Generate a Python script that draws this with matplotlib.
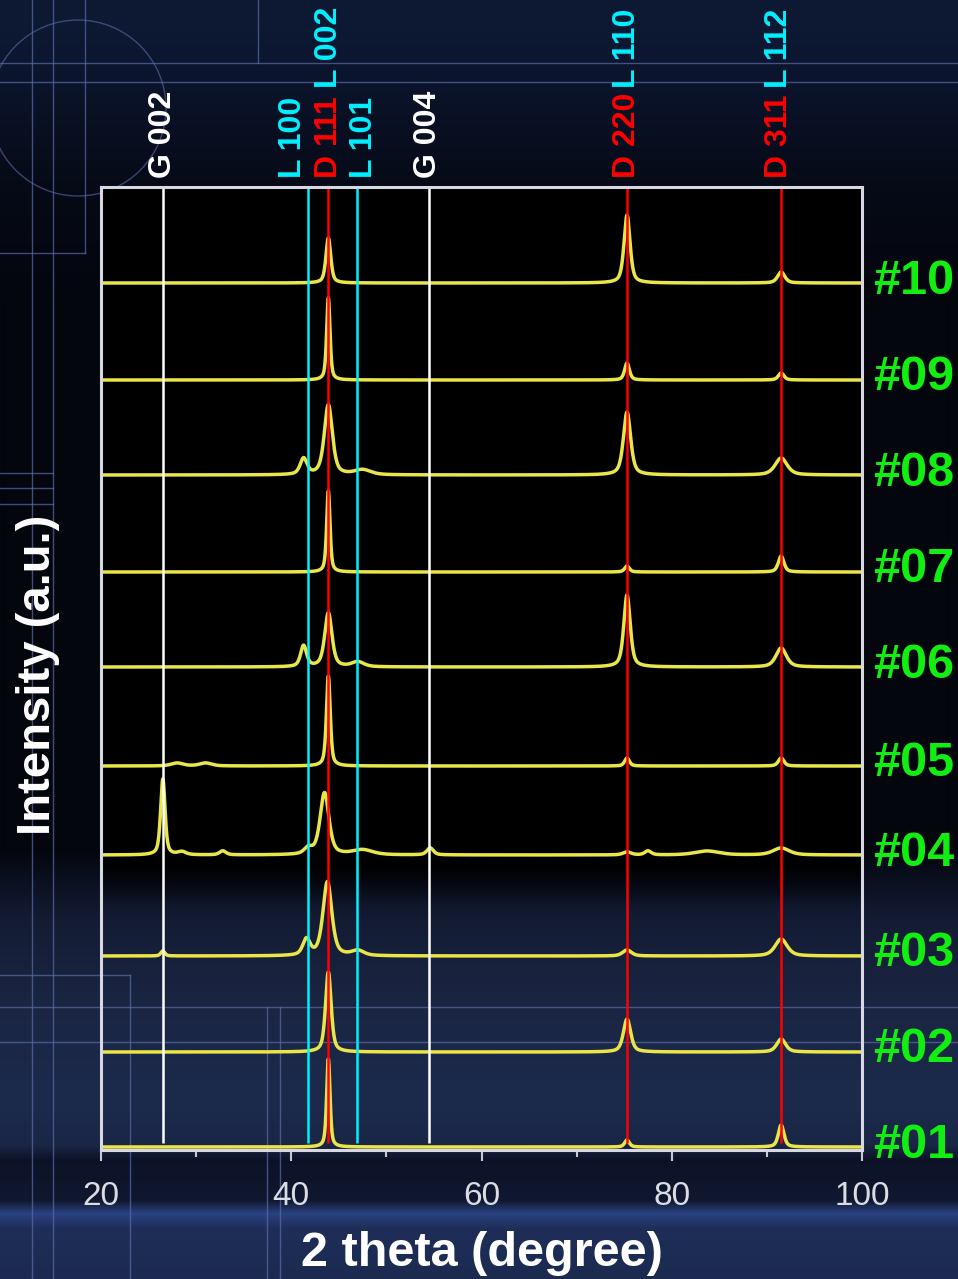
import numpy as np
import matplotlib
matplotlib.use("Agg")
import matplotlib.pyplot as plt
from matplotlib.patches import Circle
from matplotlib.transforms import blended_transform_factory
from matplotlib.ticker import MultipleLocator

plt.rcParams['font.family'] = ['Liberation Sans', 'DejaVu Sans']

# ---------------- data ----------------
sample_labels = ['#01', '#02', '#03', '#04', '#05', '#06', '#07', '#08', '#09', '#10']
# vertical offsets of each trace (a.u.)
baselines = [3, 98, 194, 295, 384, 483, 578, 675, 770, 867]

# peaks per sample: (2theta, height a.u., FWHM degree)
peaks_01 = [(43.9, 88, 0.42), (75.3, 7, 0.6), (91.5, 22, 0.7)]
peaks_02 = [(43.9, 80, 0.7), (75.3, 33, 0.9), (91.5, 13, 1.1)]
peaks_03 = [(43.8, 74, 1.1), (41.6, 16, 0.9), (47.0, 5, 1.5), (26.5, 5, 0.5),
            (75.3, 6, 1.1), (91.5, 17, 1.5)]
peaks_04 = [(26.5, 76, 0.55), (43.5, 62, 1.1), (41.8, 6, 1.0), (47.5, 5, 2.5),
            (54.6, 7, 0.8), (28.5, 3, 1.0), (32.8, 4, 0.8), (75.3, 3, 1.0),
            (77.5, 4, 0.8), (83.7, 4, 3.0), (91.5, 7, 2.0)]
peaks_05 = [(43.9, 90, 0.48), (75.3, 8, 0.6), (91.5, 8, 0.7), (28.0, 3, 1.5), (31.0, 3, 1.5)]
peaks_06 = [(43.9, 54, 0.9), (41.3, 21, 0.75), (47.0, 5, 1.5), (75.3, 72, 0.8), (91.5, 19, 1.3)]
peaks_07 = [(43.9, 81, 0.42), (75.3, 6, 0.6), (91.5, 16, 0.7)]
peaks_08 = [(43.9, 70, 1.0), (41.3, 16, 0.85), (47.5, 5, 2.0), (75.3, 63, 0.9), (91.5, 17, 1.5)]
peaks_09 = [(43.9, 82, 0.42), (75.3, 17, 0.6), (91.5, 7, 0.7)]
peaks_10 = [(43.9, 45, 0.6), (75.3, 68, 0.75), (91.5, 11, 0.9)]
all_peaks = [peaks_01, peaks_02, peaks_03, peaks_04, peaks_05,
             peaks_06, peaks_07, peaks_08, peaks_09, peaks_10]

# reference lines
ref_pos = [26.5, 41.8, 43.9, 46.9, 54.5, 75.3, 91.5]
ref_colors = ['white', '#00f0ff', '#ff0000', '#00f0ff', 'white', '#ff0000', '#ff0000']
# labels above the frame (lower row / upper row)
lower_labels = ['G 002', 'L 100', 'D 111', 'L 101', 'G 004', 'D 220', 'D 311']
lower_x = [26.5, 40.2, 44.0, 47.6, 54.4, 75.3, 91.3]
lower_colors = ['white', '#00f0ff', '#ff0000', '#00f0ff', 'white', '#ff0000', '#ff0000']
upper_labels = ['L 002', 'L 110', 'L 112']
upper_x = [44.0, 75.3, 91.3]

xticks_major = [20, 40, 60, 80, 100]

# ---------------- figure ----------------
W, H = 958, 1279
fig = plt.figure(figsize=(W / 100, H / 100), dpi=100)

# background (decoration)
bg = fig.add_axes([0, 0, 1, 1], zorder=0)
bg.set_xlim(0, W)
bg.set_ylim(H, 0)
bg.axis('off')
stop_y = [0, 60, 190, 300, 850, 880, 920, 1000, 1100, 1145, 1160, 1200, 1213, 1228, 1279]
stop_c = ['#0e1a34', '#0c1630', '#060a16', '#04060e', '#04060e', '#0a1020', '#141c34',
          '#1a2542', '#1c2a4c', '#1a2646', '#0c1226', '#101830', '#2a4280', '#1e2e58', '#1c2a50']
rgb = np.array([matplotlib.colors.to_rgb(c) for c in stop_c])
yy = np.arange(H)
grad = np.stack([np.interp(yy, stop_y, rgb[:, k]) for k in range(3)], axis=-1)[:, None, :]
bg.imshow(grad, extent=[0, W, H, 0], aspect='auto', interpolation='bilinear')
dec = dict(color='#5a6ca8', lw=1.0, alpha=0.7)
for y in [63, 82]:
    bg.plot([0, W], [y, y], **dec)
for y in [1007, 1042]:
    bg.plot([0, W], [y, y], **dec)
for x in [32, 53]:
    bg.plot([x, x], [0, H], **dec)
bg.plot([85, 85], [0, 253], **dec)
bg.plot([0, 85], [253, 253], **dec)
bg.plot([258, 258], [0, 63], **dec)
for y in [473, 488, 504]:
    bg.plot([0, 53], [y, y], **dec)
bg.plot([0, 130], [975, 975], **dec)
bg.plot([130, 130], [975, H], **dec)
for x in [267, 280]:
    bg.plot([x, x], [1007, H], **dec)
bg.add_patch(Circle((78, 108), 88, fill=False, ec='#5a6ca8', lw=1.0, alpha=0.6))

# main axes
ax = fig.add_axes([101 / W, 1 - 1150 / H, 761 / W, 963 / H], zorder=2)
ax.patch.set_alpha(0)
YMAX = 963
ov = np.zeros((200, 1, 4))
ovy = np.linspace(YMAX, 0, 200)
ov[:, 0, 3] = np.interp(ovy, [0, 245, 285, YMAX], [0.0, 0.0, 0.97, 0.97])
ax.imshow(ov, extent=[20, 100, 0, YMAX], aspect='auto', zorder=0, interpolation='bilinear')

x = np.linspace(20, 100, 4001)
for base, plist in zip(baselines, all_peaks):
    y = np.zeros_like(x)
    for p, h, w in plist:
        g = np.exp(-4 * np.log(2) * ((x - p) / w) ** 2)
        l = 1.0 / (1 + 4 * ((x - p) / w) ** 2)
        y += h * (0.45 * g + 0.55 * l)
    ax.plot(x, base + y, color='#eae64a', lw=2.5, zorder=3, solid_capstyle='round')

for p, c in zip(ref_pos, ref_colors):
    ax.vlines(p, 7, YMAX, color=c, lw=1.8, zorder=4)

ax.set_xlim(20, 100)
ax.set_ylim(0, YMAX)
ax.set_yticks([])
ax.xaxis.set_major_locator(MultipleLocator(20))
ax.xaxis.set_minor_locator(MultipleLocator(10))
ax.set_xticks(xticks_major)
ax.set_xticklabels([str(v) for v in xticks_major])
ax.tick_params(axis='x', which='major', direction='out', length=8, width=1.5,
               color='#c8c8d0', labelcolor='#dcdce4', labelsize=24, pad=14)
ax.tick_params(axis='x', which='minor', direction='out', length=5, width=1.5, color='#c8c8d0')
for s in ax.spines.values():
    s.set_color('#d8d8e2')
    s.set_linewidth(2.2)
    s.set_zorder(5)

ax.set_xlabel('2 theta (degree)', fontsize=35, fontweight='bold', color='white', labelpad=14)
fig.text(38 / W, 1 - 675 / H, 'Intensity (a.u.)', rotation=90, fontsize=34,
         fontweight='bold', color='white', ha='center', va='center')

# peak labels above the frame
tr = blended_transform_factory(ax.transData, fig.transFigure)
for t, px, c in zip(lower_labels, lower_x, lower_colors):
    ax.text(px, 1 - 178 / H, t, rotation=90, transform=tr, ha='center', va='bottom',
            fontsize=23, fontweight='bold', color=c, clip_on=False)
for t, px in zip(upper_labels, upper_x):
    ax.text(px, 1 - 88 / H, t, rotation=90, transform=tr, ha='center', va='bottom',
            fontsize=23, fontweight='bold', color='#00f0ff', clip_on=False)

# sample labels on the right
trs = blended_transform_factory(fig.transFigure, ax.transData)
for lab, base in zip(sample_labels, baselines):
    ax.text(873 / W, base + 2, lab, transform=trs, ha='left', va='center',
            fontsize=35, fontweight='bold', color='#12ee12', clip_on=False)

fig.savefig('out.png', dpi=100)
